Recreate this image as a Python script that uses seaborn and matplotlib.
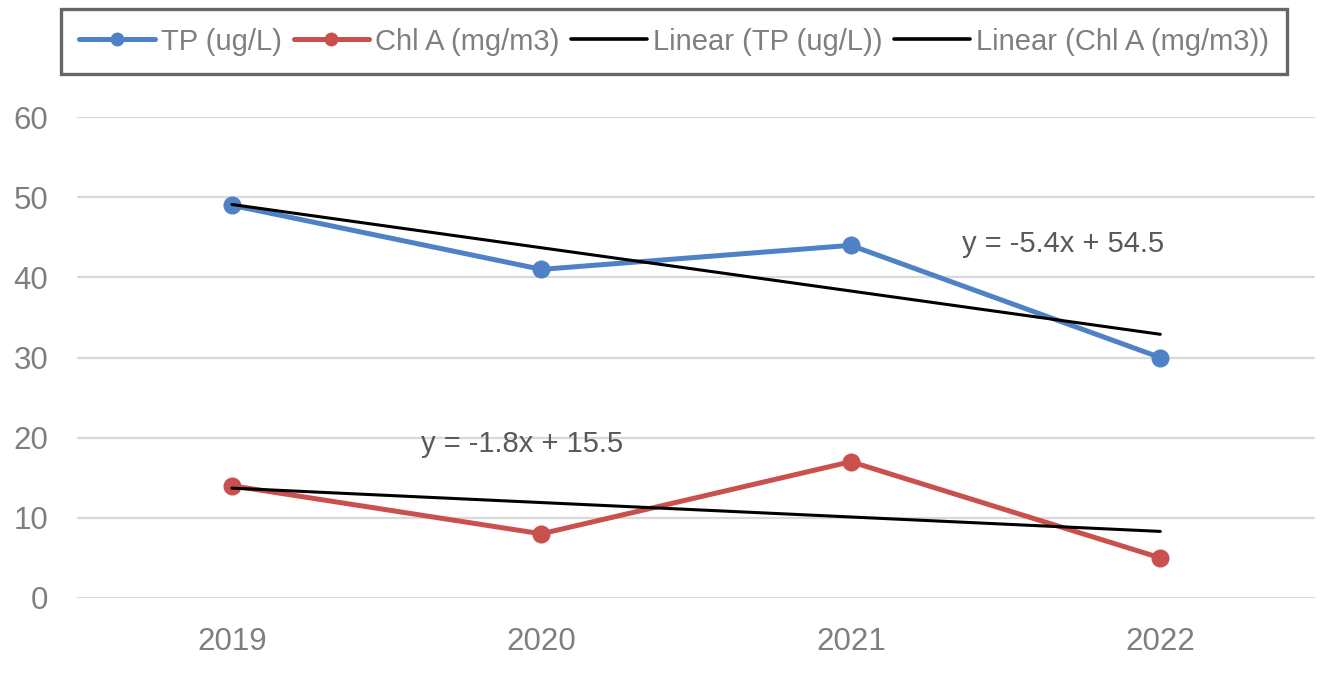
import numpy as np
import pandas as pd
import seaborn as sns
import matplotlib.pyplot as plt
from matplotlib.lines import Line2D

# data
years = ["2019", "2020", "2021", "2022"]
tp_values = [49, 41, 44, 30]
chl_values = [14, 8, 17, 5]
tp_label = "TP (ug/L)"
chl_label = "Chl A (mg/m3)"
tp_equation = "y = -5.4x + 54.5"
chl_equation = "y = -1.8x + 15.5"

blue = "#4F81C6"
red = "#C9504D"
grey_text = "#7F7F7F"

sns.set_theme(style="white")
plt.rcParams["font.family"] = ["Liberation Sans", "DejaVu Sans"]

df = pd.DataFrame({
    "pos": list(range(len(years))) * 2,
    "value": tp_values + chl_values,
    "series": [tp_label] * len(years) + [chl_label] * len(years),
})

fig = plt.figure(figsize=(13.31, 6.81), dpi=100)
ax = fig.add_axes([0.058, 0.122, 0.930, 0.706])

sns.lineplot(data=df, x="pos", y="value", hue="series",
             palette={tp_label: blue, chl_label: red},
             marker="o", markersize=13, markeredgewidth=0,
             linewidth=3.6, ax=ax, legend=False, zorder=2)

# linear trendlines
for label in [tp_label, chl_label]:
    sub = df[df["series"] == label]
    sns.regplot(data=sub, x="pos", y="value", scatter=False, ci=None,
                truncate=True, color="black", ax=ax,
                line_kws={"linewidth": 2.2, "zorder": 3})

ax.set_xlim(-0.5, len(years) - 0.5)
ax.set_ylim(0, 60)
ax.set_yticks(range(0, 61, 10))
ax.set_xticks(range(len(years)))
ax.set_xticklabels(years)
ax.set_xlabel("")
ax.set_ylabel("")
ax.grid(axis="y", color="#D9D9D9", linewidth=1.6)
ax.grid(axis="x", visible=False)
ax.set_axisbelow(True)
for s in ax.spines.values():
    s.set_visible(False)
ax.tick_params(axis="both", colors=grey_text, labelsize=22.5, length=0)
ax.tick_params(axis="y", pad=21)
ax.tick_params(axis="x", pad=21)

ax.text(2.36, 44.2, tp_equation, fontsize=21, color="#595959", va="center")
ax.text(0.61, 19.2, chl_equation, fontsize=21, color="#595959", va="center")

handles = [
    Line2D([], [], color=blue, linewidth=3.6, marker="o", markersize=10, markeredgewidth=0),
    Line2D([], [], color=red, linewidth=3.6, marker="o", markersize=10, markeredgewidth=0),
    Line2D([], [], color="black", linewidth=2.6),
    Line2D([], [], color="black", linewidth=2.6),
]
labels = [tp_label, chl_label, f"Linear ({tp_label})", f"Linear ({chl_label})"]
leg = fig.legend(handles, labels, loc="center", bbox_to_anchor=(0.5064, 0.939),
                 ncol=4, fontsize=21, frameon=True, fancybox=False,
                 handlelength=2.6, handletextpad=0.2, columnspacing=0.4,
                 borderpad=0.62, labelcolor=grey_text)
leg.get_frame().set_edgecolor("#404040")
leg.get_frame().set_linewidth(2.4)

fig.savefig("out.png", dpi=100, facecolor="white")
